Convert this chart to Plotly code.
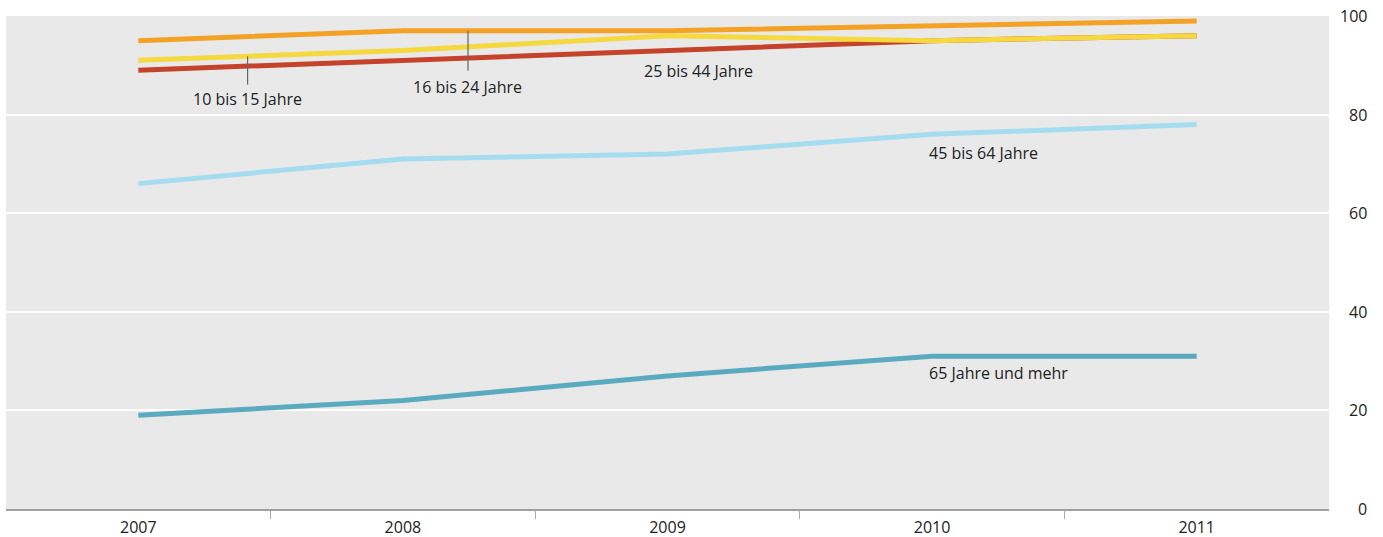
import plotly.graph_objects as go

years = ["2007", "2008", "2009", "2010", "2011"]
s_25_44 = [89, 91, 93, 95, 96]
s_10_15 = [91, 93, 96, 95, 96]
s_16_24 = [95, 97, 97, 98, 99]
s_45_64 = [66, 71, 72, 76, 78]
s_65 = [19, 22, 27, 31, 31]
y_ticks = [0, 20, 40, 60, 80, 100]

series = [
    ("65 Jahre und mehr", s_65, "#5aabbf"),
    ("45 bis 64 Jahre", s_45_64, "#a6dcef"),
    ("25 bis 44 Jahre", s_25_44, "#c4432a"),
    ("10 bis 15 Jahre", s_10_15, "#f5d93f"),
    ("16 bis 24 Jahre", s_16_24, "#f4a225"),
]

xpos = list(range(len(years)))

fig = go.Figure()
for name, vals, col in series:
    fig.add_trace(go.Scatter(x=xpos, y=vals, mode="lines", name=name,
                             line=dict(color=col, width=5), showlegend=False))

def interp(vals, xi):
    i = int(xi)
    f = xi - i
    return vals[i] + (vals[min(i + 1, len(vals) - 1)] - vals[i]) * f

font = dict(family="Open Sans, DejaVu Sans, sans-serif", size=16, color="#222")

# pointer lines
for xi, vals, ybot in [(0.413, s_10_15, 86.1), (1.246, s_16_24, 88.9)]:
    fig.add_shape(type="line", x0=xi, x1=xi, y0=ybot, y1=interp(vals, xi),
                  xref="x", yref="y", line=dict(color="#666", width=1.2))

annots = [
    ("10 bis 15 Jahre", 0.413, 83.2, "center"),
    ("16 bis 24 Jahre", 1.246, 85.7, "center"),
    ("25 bis 44 Jahre", 1.905, 88.9, "left"),
    ("45 bis 64 Jahre", 2.98, 72.3, "left"),
    ("65 Jahre und mehr", 2.98, 27.6, "left"),
]
for t, x, y, xa in annots:
    fig.add_annotation(text=t, x=x, y=y, xref="x", yref="y", showarrow=False,
                       xanchor=xa, yanchor="middle", font=font)

# right-aligned y tick labels
for v in y_ticks:
    fig.add_annotation(text=str(v), x=1, y=v, xref="paper", yref="y",
                       xanchor="right", yanchor="middle", xshift=40,
                       showarrow=False, font=font)

fig.update_layout(
    width=1383, height=537,
    margin=dict(l=6, r=54, t=16, b=28),
    plot_bgcolor="#e9e9e9", paper_bgcolor="white",
    font=font,
    xaxis=dict(range=[-0.5, 4.5], tickvals=xpos, ticktext=years, ticks="",
               ticklabelstandoff=3,
               minor=dict(tickvals=[i + 0.5 for i in xpos[:-1]], ticks="outside",
                          ticklen=8, tickcolor="#aaa", tickwidth=1, showgrid=False),
               showline=True, linecolor="#a0a0a0", linewidth=2, zeroline=False,
               showgrid=False, tickfont=font, automargin=False),
    yaxis=dict(side="right", range=[0, 100], tickvals=y_ticks,
               showgrid=True, gridcolor="white", gridwidth=2, zeroline=False,
               showline=False, ticks="", showticklabels=False, automargin=False),
)

fig.write_html("out.html", config={"displayModeBar": False},
               post_script="document.body.style.margin='0';")
